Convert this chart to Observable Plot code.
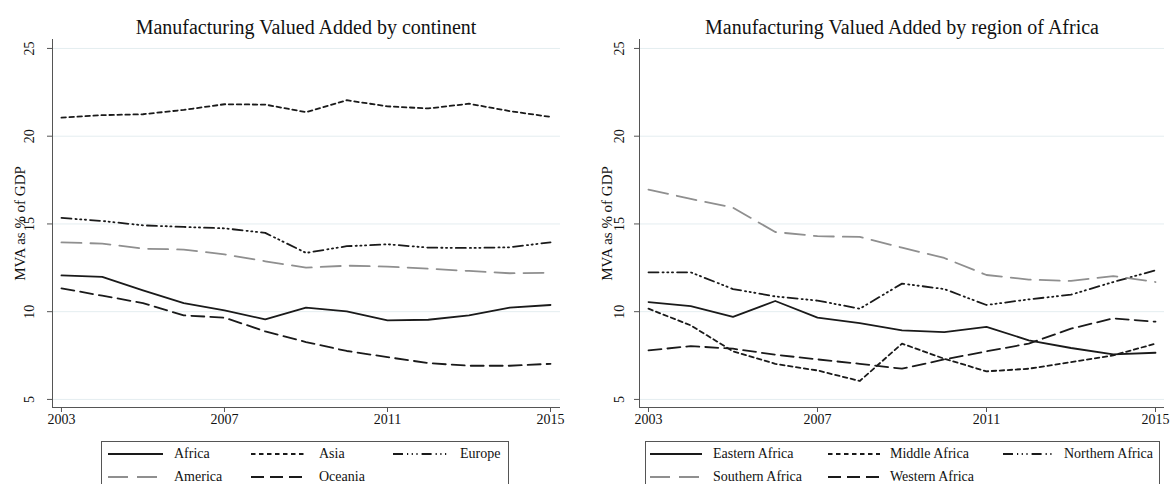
<!DOCTYPE html>
<html><head><meta charset="utf-8">
<script src="https://cdn.jsdelivr.net/npm/d3@7"></script>
<script src="https://cdn.jsdelivr.net/npm/@observablehq/plot@0.6"></script>
<style>
body{margin:0;background:#fff;font-family:"Liberation Serif","Times New Roman",serif;}
#wrap{position:relative;width:1171px;height:484px;overflow:hidden;background:#fff;}
.panel{position:absolute;top:0;}
.title{position:absolute;top:16px;font-size:20px;line-height:22px;white-space:nowrap;transform:translateX(-50%);color:#111;}
.legend{position:absolute;top:441px;height:70px;border:1px solid #555;box-sizing:border-box;}
.item{position:absolute;font-size:14px;line-height:16px;color:#111;white-space:nowrap;}
</style></head>
<body><div id="wrap"></div>
<script>
// ---- data ----
const years = [2003,2004,2005,2006,2007,2008,2009,2010,2011,2012,2013,2014,2015];
const xTicks = [2003,2007,2011,2015];
const yTicks = [5,10,15,20,25];

const africa  = [12.07,11.98,11.22,10.49,10.08,9.56,10.23,10.02,9.51,9.54,9.79,10.23,10.38];
const asia    = [21.06,21.20,21.25,21.50,21.82,21.80,21.37,22.05,21.70,21.58,21.85,21.43,21.10];
const europe  = [15.34,15.17,14.92,14.83,14.75,14.49,13.35,13.73,13.84,13.65,13.63,13.67,13.95];
const america = [13.95,13.88,13.59,13.54,13.27,12.87,12.51,12.62,12.57,12.45,12.32,12.19,12.22];
const oceania = [11.33,10.91,10.49,9.79,9.66,8.88,8.27,7.76,7.41,7.07,6.92,6.92,7.03];

const easternAfrica  = [10.55,10.32,9.70,10.61,9.66,9.35,8.94,8.84,9.13,8.37,7.93,7.57,7.66];
const middleAfrica   = [10.17,9.22,7.74,7.03,6.65,6.05,8.18,7.32,6.60,6.75,7.13,7.51,8.18];
const northernAfrica = [12.24,12.24,11.29,10.87,10.63,10.17,11.60,11.29,10.38,10.70,10.97,11.69,12.36];
const southernAfrica = [16.96,16.43,15.93,14.54,14.30,14.26,13.65,13.06,12.09,11.83,11.75,12.03,11.69];
const westernAfrica  = [7.79,8.04,7.89,7.55,7.28,7.03,6.75,7.28,7.74,8.18,9.03,9.62,9.43];

const leftNames  = ["Africa","Asia","Europe","America","Oceania"];
const rightNames = ["Eastern Africa","Middle Africa","Northern Africa","Southern Africa","Western Africa"];
const leftTitle  = "Manufacturing Valued Added by continent";
const rightTitle = "Manufacturing Valued Added by region of Africa";
const yLabel = "MVA as % of GDP";

// ---- styles ----
const BLACK = "#1a1a1a", GRAY = "#8f8f8f";
const styles = [
  {stroke: BLACK, dash: null},
  {stroke: BLACK, dash: "4.5,3.5"},
  {stroke: BLACK, dash: "10,4,1.2,3.5,1.2,3.5,1.2,4"},
  {stroke: GRAY,  dash: "20,9"},
  {stroke: BLACK, dash: "13,6"}
];
const FONT = '"Liberation Serif","Times New Roman",serif';

function panel(seriesArr, names, opts) {
  const data = [];
  seriesArr.forEach((vals, i) => vals.forEach((v, j) => data.push({year: years[j], value: v, name: names[i], k: i})));
  const yDomain = [4.54, 25.51];
  const marks = [
    Plot.gridY(yTicks, {stroke: "#e4edf0", strokeOpacity: 1, strokeWidth: 1}),
    ...names.map((n, i) => Plot.line(data.filter(d => d.k === i), {
      x: "year", y: "value", stroke: styles[i].stroke, strokeWidth: 1.8,
      strokeDasharray: styles[i].dash, strokeLinejoin: "round"
    })),
    Plot.ruleX([opts.xDomain[0]], {stroke: "#555", strokeWidth: 1}),
    Plot.ruleY([yDomain[0]], {stroke: "#555", strokeWidth: 1}),
    Plot.axisX(xTicks, {tickSize: 5, tickPadding: 2, tickFormat: d => String(d), stroke: "#555", label: null, fontSize: 14}),
    Plot.axisY(yTicks, {tickSize: 5, tickPadding: opts.tickPad, tickRotate: -90, stroke: "#555", fontSize: 14, label: null}),
    Plot.axisY([], {tickSize: 0, fontSize: 15, label: yLabel, labelAnchor: "center", labelArrow: "none", labelOffset: opts.labelOffset})
  ];
  return Plot.plot({
    width: opts.width, height: 441,
    marginLeft: opts.ml, marginRight: opts.mr, marginTop: 39, marginBottom: 34,
    x: {domain: opts.xDomain},
    y: {domain: yDomain},
    style: {fontFamily: FONT, fontSize: "14px", color: "#111", background: "transparent"},
    marks
  });
}

const wrap = document.getElementById("wrap");
function place(el, left) { const d = document.createElement("div"); d.className = "panel"; d.style.left = left + "px"; d.appendChild(el); wrap.appendChild(d); }

place(panel([africa, asia, europe, america, oceania], leftNames, {width: 585, ml: 52, mr: 25, xDomain: [2002.78, 2015.245], labelOffset: 38, tickPad: 14}), 0);
place(panel([easternAfrica, middleAfrica, northernAfrica, southernAfrica, westernAfrica], rightNames, {width: 586, ml: 54, mr: 7, xDomain: [2002.787, 2015.213], labelOffset: 38, tickPad: 11}), 585);

function title(text, cx) { const t = document.createElement("div"); t.className = "title"; t.style.left = cx + "px"; t.textContent = text; wrap.appendChild(t); }
title(leftTitle, 306);
title(rightTitle, 902);

function legend(names, box) {
  const b = document.createElement("div"); b.className = "legend";
  b.style.left = box.left + "px"; b.style.width = box.width + "px"; wrap.appendChild(b);
  names.forEach((n, i) => {
    const col = i % 3, row = Math.floor(i / 3);
    const cy = 441 + (row === 0 ? 13 : 36);
    const sx = box.left + box.sample[col];
    const svgNS = "http://www.w3.org/2000/svg";
    const s = document.createElementNS(svgNS, "svg");
    s.setAttribute("width", box.sw); s.setAttribute("height", 6);
    s.style.position = "absolute"; s.style.left = sx + "px"; s.style.top = (cy - 3) + "px";
    const l = document.createElementNS(svgNS, "line");
    l.setAttribute("x1", 0); l.setAttribute("x2", box.sw); l.setAttribute("y1", 3); l.setAttribute("y2", 3);
    l.setAttribute("stroke", styles[i].stroke); l.setAttribute("stroke-width", 2);
    if (styles[i].dash) l.setAttribute("stroke-dasharray", styles[i].dash);
    s.appendChild(l); wrap.appendChild(s);
    const t = document.createElement("div"); t.className = "item";
    t.style.left = (box.left + box.label[col]) + "px"; t.style.top = (cy - 8) + "px"; t.textContent = n;
    wrap.appendChild(t);
  });
}
legend(leftNames,  {left: 101, width: 408, sample: [7, 150, 292], sw: 55, label: [73, 218, 359]});
legend(rightNames, {left: 645, width: 515, sample: [5, 183, 358], sw: 52, label: [68, 245, 419]});
</script></body></html>
